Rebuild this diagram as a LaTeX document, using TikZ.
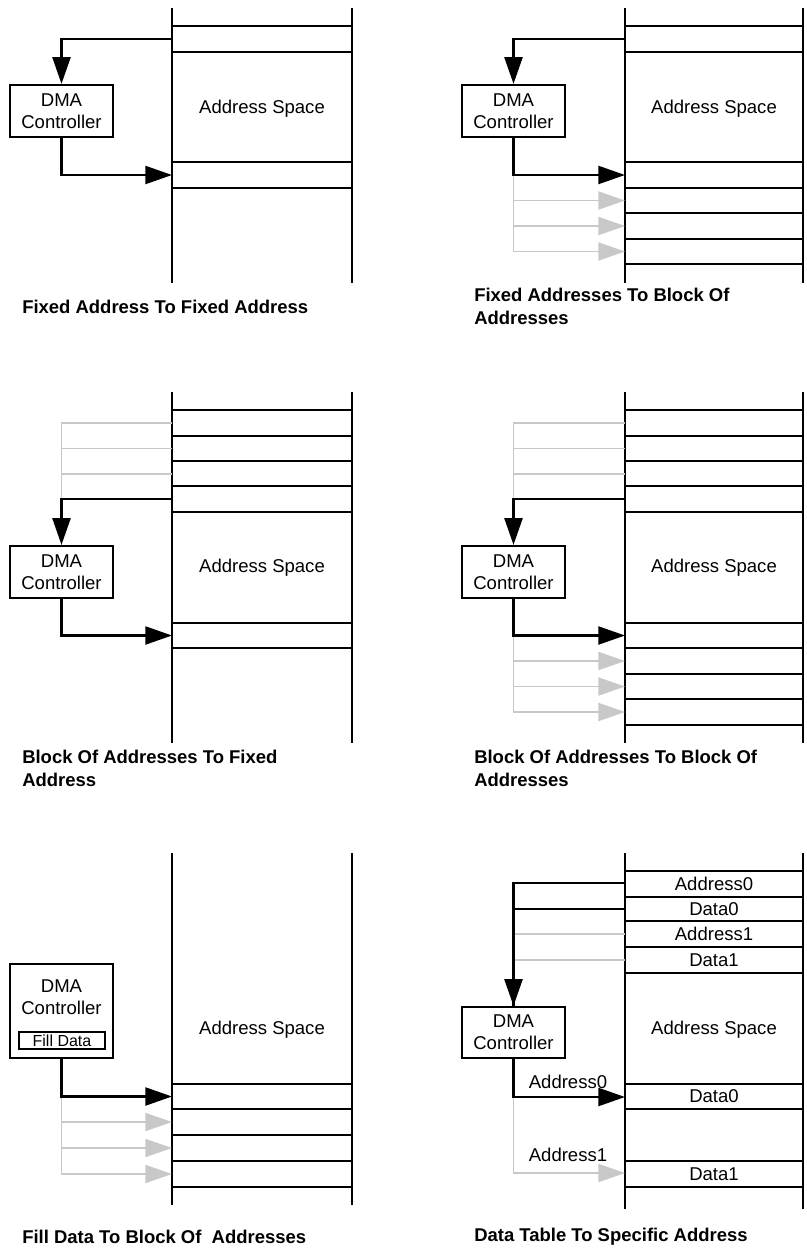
\documentclass[tikz,border=0pt]{standalone}
\usepackage{fontspec}
\setmainfont{Liberation Sans}
\usepackage{tikz}
\usetikzlibrary{positioning,arrows.meta}
\definecolor{lgray}{RGB}{200,200,200}

\begin{document}
\begin{tikzpicture}[
    x=0.75pt, y=-0.75pt,
    node font=\fontsize{13.9}{16.5}\selectfont,
    wall/.style={draw, line width=1.7pt},
    line/.style={draw, line width=1.7pt},
    blkarrow/.style={draw, line width=1.7pt, -{Triangle[length=20pt,width=13.5pt]}},
    grayline/.style={draw, line width=1.45pt, lgray},
    grayarrow/.style={grayline, -{Triangle[length=20pt,width=13.5pt]}},
    dma/.style={draw, line width=1.7pt, rectangle, minimum width=77.25pt, minimum height=39pt, align=center, inner sep=0pt, fill=white},
    fillbox/.style={draw, line width=1.6pt, rectangle, minimum width=64.5pt, minimum height=12.75pt, inner sep=0pt, font=\fontsize{12}{13}\selectfont},
    title/.style={anchor=west, align=left, inner sep=0pt, font=\fontsize{13.85}{17.2}\selectfont\bfseries}
]
\useasboundingbox (0,0) rectangle (807,1250);

% Fixed address to fixed address
\draw[wall] (172,8) -- (172,283);
\draw[wall] (352,8) -- (352,283);
\foreach \y in {26,52,162,188} \draw[wall] (172,\y) -- (352,\y);
\node (spaceA) at (262,109) {Address Space};
\node[dma] (dmaA) at (61.5,111) {DMA\\Controller};
\coordinate (srcA) at (172,39);
\coordinate (dstA) at (172,175);
\draw[blkarrow] (srcA) -| (dmaA.north);
\draw[blkarrow] (dmaA.south) |- (dstA);
\node[title] (titleA) at (22,307) {Fixed Address To Fixed Address};

% Fixed address to block of addresses
\draw[wall] (625,8) -- (625,283);
\draw[wall] (803,8) -- (803,283);
\foreach \y in {26,52,162,188,213,239,264} \draw[wall] (625,\y) -- (803,\y);
\node (spaceB) at (714,109) {Address Space};
\node[dma] (dmaB) at (513.5,111) {DMA\\Controller};
\coordinate (srcB) at (625,39);
\coordinate (dstB) at (625,175);
\foreach \i/\y in {1/200.5,2/226,3/251.5} {
  \coordinate (dstB\i) at (625,\y);
  \draw[grayarrow] (dmaB.south) |- (dstB\i);
}
\draw[blkarrow] (srcB) -| (dmaB.north);
\draw[blkarrow] (dmaB.south) |- (dstB);
\node[title] (titleB) at (474,306.5) {Fixed Addresses To Block Of\\Addresses};

% Block of addresses to fixed address
\draw[wall] (172,392) -- (172,743);
\draw[wall] (352,392) -- (352,743);
\foreach \y in {410,436,461,486,512,623,648} \draw[wall] (172,\y) -- (352,\y);
\node (spaceC) at (262,568) {Address Space};
\node[dma] (dmaC) at (61.5,572) {DMA\\Controller};
\foreach \i/\y in {1/423,2/448.5,3/474} {
  \coordinate (srcC\i) at (172,\y);
  \draw[grayline] (srcC\i) -| (dmaC.north);
}
\coordinate (srcC) at (172,499);
\coordinate (dstC) at (172,635.5);
\draw[blkarrow] (srcC) -| (dmaC.north);
\draw[blkarrow] (dmaC.south) |- (dstC);
\node[title] (titleC) at (22,768) {Block Of Addresses To Fixed\\Address};

% Block of addresses to block of addresses
\draw[wall] (625,392) -- (625,743);
\draw[wall] (803,392) -- (803,743);
\foreach \y in {410,436,461,486,512,623,648,674,699,725} \draw[wall] (625,\y) -- (803,\y);
\node (spaceD) at (714,568) {Address Space};
\node[dma] (dmaD) at (513.5,572) {DMA\\Controller};
\foreach \i/\y in {1/423,2/448.5,3/474} {
  \coordinate (srcD\i) at (625,\y);
  \draw[grayline] (srcD\i) -| (dmaD.north);
}
\foreach \i/\y in {1/661,2/686.5,3/712} {
  \coordinate (dstD\i) at (625,\y);
  \draw[grayarrow] (dmaD.south) |- (dstD\i);
}
\coordinate (srcD) at (625,499);
\coordinate (dstD) at (625,635.5);
\draw[blkarrow] (srcD) -| (dmaD.north);
\draw[blkarrow] (dmaD.south) |- (dstD);
\node[title] (titleD) at (474,768) {Block Of Addresses To Block Of\\Addresses};

% Fill data to block of addresses
\draw[wall] (172,853) -- (172,1205);
\draw[wall] (352,853) -- (352,1205);
\foreach \y in {1084,1109,1135,1161,1187} \draw[wall] (172,\y) -- (352,\y);
\node (spaceE) at (262,1030) {Address Space};
\node[dma, minimum height=70.5pt] (dmaE) at (61.5,1011) {};
\node[align=center, inner sep=0pt] (dmaEtxt) at (61.5,997.5) {DMA\\Controller};
\node[fillbox] (fillE) at (62,1040.5) {Fill Data};
\foreach \i/\y in {1/1122,2/1148,3/1174} {
  \coordinate (dstE\i) at (172,\y);
  \draw[grayarrow] (dmaE.south) |- (dstE\i);
}
\coordinate (dstE) at (172,1096.5);
\draw[blkarrow] (dmaE.south) |- (dstE);
\node[title] (titleE) at (22,1237) {Fill Data To Block Of~ Addresses};

% Data table to specific address
\draw[wall] (625,853) -- (625,1209);
\draw[wall] (803,853) -- (803,1209);
\foreach \y in {871,897,921,947,973,1084,1109,1161,1187} \draw[wall] (625,\y) -- (803,\y);
\node (adrF0) at (714,884) {Address0};
\node (datF0) at (714,909) {Data0};
\node (adrF1) at (714,934) {Address1};
\node (datF1) at (714,960) {Data1};
\node (spaceF) at (714,1030) {Address Space};
\node (dstTxtF0) at (714,1096.5) {Data0};
\node (dstTxtF1) at (714,1174) {Data1};
\node[dma, minimum height=38.25pt] (dmaF) at (513.5,1032.5) {DMA\\Controller};
\foreach \i/\y in {2/934,3/960} {
  \coordinate (srcF\i) at (625,\y);
  \draw[grayline] (srcF\i) -| (dmaF.north);
}
\coordinate (srcF0) at (625,883);
\coordinate (srcF1) at (625,909);
\draw[line] (srcF1) -| (dmaF.north);
\draw[blkarrow] (srcF0) -| (dmaF.north);
\coordinate (dstF1) at (625,1173);
\coordinate (dstF0) at (625,1097);
\draw[grayarrow] (dmaF.south) |- (dstF1);
\draw[blkarrow] (dmaF.south) |- (dstF0);
\node (lblF1) at (568,1155) {Address1};
\node (lblF0) at (568,1082) {Address0};
\node[title] (titleF) at (474,1237) {Data Table To Specific Address};

\end{tikzpicture}
\end{document}
